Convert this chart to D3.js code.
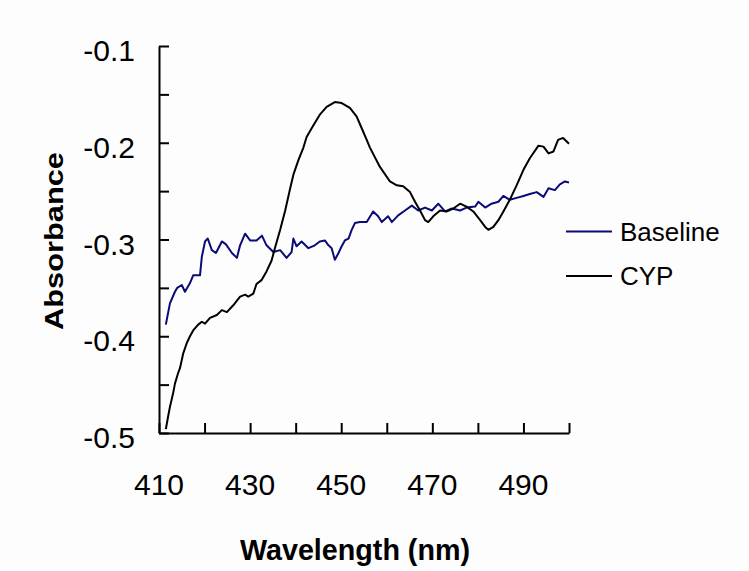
<!DOCTYPE html>
<html>
<head>
<meta charset="utf-8">
<script src="https://cdn.jsdelivr.net/npm/d3@7"></script>
<style>
  body { margin: 0; background: #fdfdfd; }
  svg { display: block; }
  text { font-family: "Liberation Sans", Arial, sans-serif; fill: #000; }
</style>
</head>
<body>
<script>
// Canvas config
const config = { width: 749, height: 571 };
const margin = { left: 159, right: 180, top: 46, bottom: 139 };

// Data (wavelength in nm, absorbance)
const cypWavelength = [411.5, 412.0, 412.4, 413.1, 413.5, 414.2, 414.6, 415.3, 416.1, 416.8, 417.5, 418.6, 419.4, 420.1, 421.2, 422.7, 423.8, 424.9, 426.3, 427.8, 428.9, 429.6, 430.7, 431.4, 432.5, 433.6, 434.7, 435.5, 436.6, 437.7, 438.8, 439.5, 440.6, 441.7, 442.4, 443.9, 445.3, 446.8, 448.6, 450.1, 451.9, 453.4, 454.5, 455.6, 456.3, 458.5, 460.7, 462.2, 463.6, 465.1, 466.2, 467.3, 468.4, 469.1, 470.2, 471.7, 473.2, 474.6, 476.1, 477.5, 479.0, 480.5, 481.6, 482.3, 483.4, 484.5, 485.6, 487.0, 488.5, 490.0, 491.4, 493.3, 494.4, 495.5, 496.6, 497.6, 498.7, 500.0];
const cypAbsorbance = [-0.496, -0.483, -0.473, -0.459, -0.449, -0.438, -0.433, -0.418, -0.407, -0.400, -0.394, -0.388, -0.385, -0.387, -0.381, -0.378, -0.373, -0.375, -0.368, -0.359, -0.357, -0.359, -0.356, -0.346, -0.342, -0.333, -0.322, -0.308, -0.290, -0.270, -0.247, -0.233, -0.218, -0.205, -0.194, -0.182, -0.171, -0.163, -0.158, -0.159, -0.164, -0.173, -0.185, -0.197, -0.205, -0.225, -0.240, -0.244, -0.245, -0.251, -0.261, -0.270, -0.280, -0.282, -0.276, -0.270, -0.271, -0.268, -0.263, -0.266, -0.271, -0.280, -0.287, -0.290, -0.287, -0.280, -0.271, -0.259, -0.244, -0.228, -0.216, -0.203, -0.204, -0.211, -0.209, -0.197, -0.195, -0.201];

const baseWavelength = [411.5, 412.4, 413.5, 414.0, 415.0, 415.7, 416.8, 417.5, 419.0, 419.4, 420.1, 420.7, 421.6, 422.5, 423.8, 424.7, 426.0, 427.1, 427.8, 428.9, 430.0, 431.4, 432.6, 433.6, 435.1, 436.6, 438.0, 439.1, 439.5, 440.2, 441.3, 442.8, 444.2, 445.3, 446.4, 447.2, 447.9, 448.6, 449.4, 450.1, 450.8, 451.6, 452.3, 453.0, 454.1, 455.6, 457.0, 458.1, 458.9, 460.3, 461.1, 462.5, 464.0, 465.5, 466.9, 468.4, 469.9, 471.3, 472.8, 474.3, 476.1, 477.5, 479.4, 480.1, 481.6, 483.0, 484.5, 485.6, 487.0, 488.5, 490.0, 491.4, 492.9, 494.4, 495.5, 496.9, 498.0, 499.1, 500.0];
const baseAbsorbance = [-0.388, -0.366, -0.354, -0.350, -0.347, -0.354, -0.345, -0.337, -0.337, -0.318, -0.302, -0.299, -0.311, -0.314, -0.302, -0.305, -0.314, -0.319, -0.306, -0.294, -0.301, -0.301, -0.296, -0.306, -0.313, -0.311, -0.319, -0.313, -0.299, -0.307, -0.302, -0.309, -0.306, -0.302, -0.301, -0.306, -0.309, -0.321, -0.314, -0.307, -0.301, -0.299, -0.290, -0.283, -0.282, -0.282, -0.271, -0.276, -0.282, -0.276, -0.282, -0.275, -0.270, -0.265, -0.270, -0.267, -0.270, -0.263, -0.271, -0.268, -0.270, -0.267, -0.266, -0.261, -0.267, -0.263, -0.261, -0.255, -0.259, -0.257, -0.255, -0.253, -0.251, -0.256, -0.247, -0.249, -0.243, -0.240, -0.241];

// Axis ticks
const xTicks = [410, 420, 430, 440, 450, 460, 470, 480, 490, 500];
const xTickLabels = [410, 430, 450, 470, 490];
const yTicks = [-0.5, -0.45, -0.4, -0.35, -0.3, -0.25, -0.2, -0.15, -0.1];
const yTickLabels = [-0.5, -0.4, -0.3, -0.2, -0.1];

const seriesNames = ["Baseline", "CYP"];
const seriesColors = ["#0b0b78", "#000000"];

const svg = d3
  .select("body")
  .append("svg")
  .attr("width", config.width)
  .attr("height", config.height);

const x = d3
  .scaleLinear()
  .domain([410, 500])
  .range([margin.left, config.width - margin.right]);

const y = d3
  .scaleLinear()
  .domain([-0.5, -0.1])
  .range([config.height - margin.bottom + 1, margin.top]);

// Axes (ticks pointing inside)
svg
  .append("g")
  .attr("transform", `translate(0,${y(-0.5)})`)
  .call(d3.axisBottom(x).tickValues(xTicks).tickSizeInner(-10).tickSizeOuter(0).tickFormat(""));

svg
  .append("g")
  .attr("transform", `translate(${x(410)},0)`)
  .call(d3.axisLeft(y).tickValues(yTicks).tickSizeInner(-10).tickSizeOuter(0).tickFormat(""));

svg.selectAll(".domain, .tick line").attr("stroke", "#000").attr("stroke-width", 2);

// Tick labels (plain hyphen as in the original)
const fmt = d => d.toFixed(1);

svg
  .append("g")
  .selectAll("text")
  .data(xTickLabels)
  .enter()
  .append("text")
  .attr("x", d => x(d))
  .attr("y", 495)
  .attr("text-anchor", "middle")
  .attr("font-size", 30)
  .text(d => d);

svg
  .append("g")
  .selectAll("text")
  .data(yTickLabels)
  .enter()
  .append("text")
  .attr("x", 135)
  .attr("y", d => y(d) + 15)
  .attr("text-anchor", "end")
  .attr("font-size", 30)
  .text(fmt);

// Axis titles
svg
  .append("text")
  .attr("x", 355)
  .attr("y", 560)
  .attr("text-anchor", "middle")
  .attr("font-size", 29)
  .attr("font-weight", "bold")
  .attr("textLength", 230)
  .attr("lengthAdjust", "spacingAndGlyphs")
  .text("Wavelength (nm)");

svg
  .append("text")
  .attr("transform", "translate(63,241) rotate(-90)")
  .attr("text-anchor", "middle")
  .attr("font-size", 26)
  .attr("font-weight", "bold")
  .attr("textLength", 178)
  .attr("lengthAdjust", "spacingAndGlyphs")
  .text("Absorbance");

// Lines
const line = d3
  .line()
  .x(d => x(d[0]))
  .y(d => y(d[1]));

const series = [
  d3.zip(baseWavelength, baseAbsorbance),
  d3.zip(cypWavelength, cypAbsorbance)
];

svg
  .append("g")
  .selectAll("path")
  .data(series)
  .enter()
  .append("path")
  .attr("d", line)
  .attr("fill", "none")
  .attr("stroke", (d, i) => seriesColors[i])
  .attr("stroke-width", 2)
  .attr("stroke-linejoin", "round");

// Legend
const legend = svg
  .append("g")
  .selectAll("g")
  .data(seriesNames)
  .enter()
  .append("g")
  .attr("transform", (d, i) => `translate(566,${231.5 + i * 44.5})`);

legend
  .append("line")
  .attr("x1", 0)
  .attr("x2", 46)
  .attr("stroke", (d, i) => seriesColors[i])
  .attr("stroke-width", 2);

legend
  .append("text")
  .attr("x", 54)
  .attr("y", 9)
  .attr("font-size", 26)
  .text(d => d);
</script>
</body>
</html>
